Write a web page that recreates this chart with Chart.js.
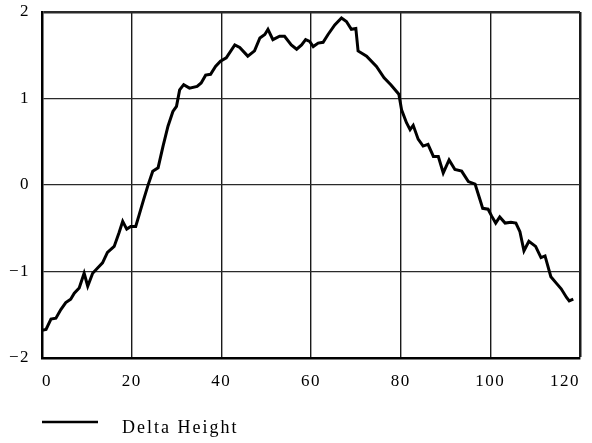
<!DOCTYPE html>
<html>
<head>
<meta charset="utf-8">
<script src="https://cdn.jsdelivr.net/npm/chart.js@4/dist/chart.umd.min.js"></script>
<style>
  html, body { margin: 0; padding: 0; background: #fff; }
  #wrap { width: 592px; height: 443px; }
</style>
</head>
<body>
<div id="wrap"><canvas id="c" width="592" height="443"></canvas></div>
<script>
// ---- data ----
const xValues = [
  0, 0.9, 2.0, 3.1, 4.2, 5.3, 6.4, 7.2, 8.3, 9.4, 10.2, 11.3, 12.4, 13.5, 14.6, 16.1, 17.2, 18.0, 18.9, 19.8,
  20.9, 21.7, 22.6, 23.6, 24.7, 25.9, 27.0, 28.1, 29.2, 30.0, 30.7, 31.6, 32.9, 34.6, 35.5, 36.5, 37.6, 38.7, 39.8,
  41.1, 43.0, 44.1, 45.9, 47.4, 48.6, 49.7, 50.4, 51.5, 53.0, 54.1, 55.6, 56.8, 57.9, 58.8, 59.7,
  60.5, 61.6, 62.7, 63.8, 65.3, 66.8, 67.9, 69.0, 70.0, 70.5, 72.4, 74.6, 76.3, 77.8, 79.6,
  80.2, 81.3, 82.1, 82.8, 83.9, 85.0, 86.1, 87.3, 88.4, 89.5, 90.8, 92.1, 93.6, 95.1, 96.6, 97.7, 98.3, 99.5,
  100.3, 101.2, 102.1, 103.3, 104.6, 105.7, 106.6, 107.5, 108.6, 110.1, 111.3, 112.2, 113.5, 114.8, 115.8, 117.0, 117.6, 118.5
];
const deltaHeight = [
  -1.68, -1.67, -1.55, -1.54, -1.44, -1.36, -1.32, -1.25, -1.19, -1.02, -1.17, -1.02, -0.96, -0.90, -0.78, -0.71, -0.55, -0.42, -0.51, -0.48,
  -0.48, -0.34, -0.18, -0.01, 0.16, 0.20, 0.45, 0.68, 0.85, 0.91, 1.10, 1.16, 1.12, 1.14, 1.18, 1.27, 1.28, 1.37, 1.43,
  1.47, 1.62, 1.59, 1.49, 1.55, 1.70, 1.74, 1.80, 1.68, 1.72, 1.72, 1.62, 1.57, 1.62, 1.68, 1.66,
  1.60, 1.64, 1.65, 1.74, 1.85, 1.93, 1.89, 1.80, 1.81, 1.55, 1.49, 1.37, 1.24, 1.16, 1.05,
  0.87, 0.72, 0.64, 0.69, 0.53, 0.45, 0.47, 0.33, 0.33, 0.14, 0.29, 0.18, 0.16, 0.04, 0.01, -0.17, -0.27, -0.28,
  -0.36, -0.44, -0.37, -0.44, -0.43, -0.44, -0.54, -0.76, -0.65, -0.71, -0.84, -0.82, -1.06, -1.14, -1.20, -1.30, -1.34, -1.32
];
const seriesName = 'Delta Height';
const xTickLabels = ['0', '20', '40', '60', '80', '100', '120'];
const yTickLabels = ['\u22122', '\u22121', '0', '1', '2'];

const points = xValues.map((x, i) => ({ x: x, y: deltaHeight[i] }));
const FONT = "'Liberation Serif', 'Times New Roman', serif";

function zeroPad(scale) {
  scale.paddingTop = 0;
  scale.paddingBottom = 0;
  scale.paddingLeft = 0;
  scale.paddingRight = 0;
}

const legendPlugin = {
  id: 'customLegend',
  beforeDraw(chart) {
    chart.ctx.letterSpacing = '1.5px';
  },
  afterDraw(chart) {
    const ctx = chart.ctx;
    const ds = chart.data.datasets[0];
    ctx.save();
    ctx.strokeStyle = '#000';
    ctx.lineWidth = 2.4;
    ctx.beginPath();
    ctx.moveTo(42, 422);
    ctx.lineTo(98, 422);
    ctx.stroke();
    ctx.fillStyle = '#000';
    ctx.font = "18px " + FONT;
    ctx.letterSpacing = '2px';
    ctx.textBaseline = 'alphabetic';
    ctx.textAlign = 'left';
    ctx.fillText(ds.label, 122, 433);
    ctx.restore();
  }
};

new Chart(document.getElementById('c'), {
  type: 'line',
  data: {
    datasets: [{
      label: seriesName,
      data: points,
      borderColor: '#000',
      borderWidth: 3,
      pointRadius: 0,
      tension: 0,
      fill: false
    }]
  },
  options: {
    responsive: false,
    animation: false,
    layout: { padding: { left: 0, right: 12, top: 12, bottom: 0 } },
    plugins: {
      legend: { display: false },
      tooltip: { enabled: false }
    },
    scales: {
      x: {
        type: 'linear',
        min: 0, max: 120,
        afterFit(scale) { scale.height = 85; zeroPad(scale); },
        ticks: {
          stepSize: 20,
          padding: 13,
          align: 'inner',
          color: '#000',
          font: { family: FONT, size: 17 },
          maxRotation: 0,
          callback: (v, i) => xTickLabels[i]
        },
        grid: {
          drawTicks: false,
          color: '#1a1a1a',
          lineWidth: (c) => (c.tick && c.tick.value === 120) ? 2.5 : 1.4
        },
        border: { display: true, color: '#000', width: 2.5 }
      },
      y: {
        min: -2, max: 2,
        afterFit(scale) { scale.width = 42; zeroPad(scale); },
        ticks: {
          stepSize: 1,
          padding: 12,
          color: '#000',
          font: { family: FONT, size: 17 },
          callback: (v, i) => yTickLabels[i]
        },
        grid: {
          drawTicks: false,
          color: '#2a2a2a',
          lineWidth: (c) => (c.tick && c.tick.value === 2) ? 2.5 : 1.2
        },
        border: { display: true, color: '#000', width: 2.5 }
      }
    }
  },
  plugins: [legendPlugin]
});
</script>
</body>
</html>
